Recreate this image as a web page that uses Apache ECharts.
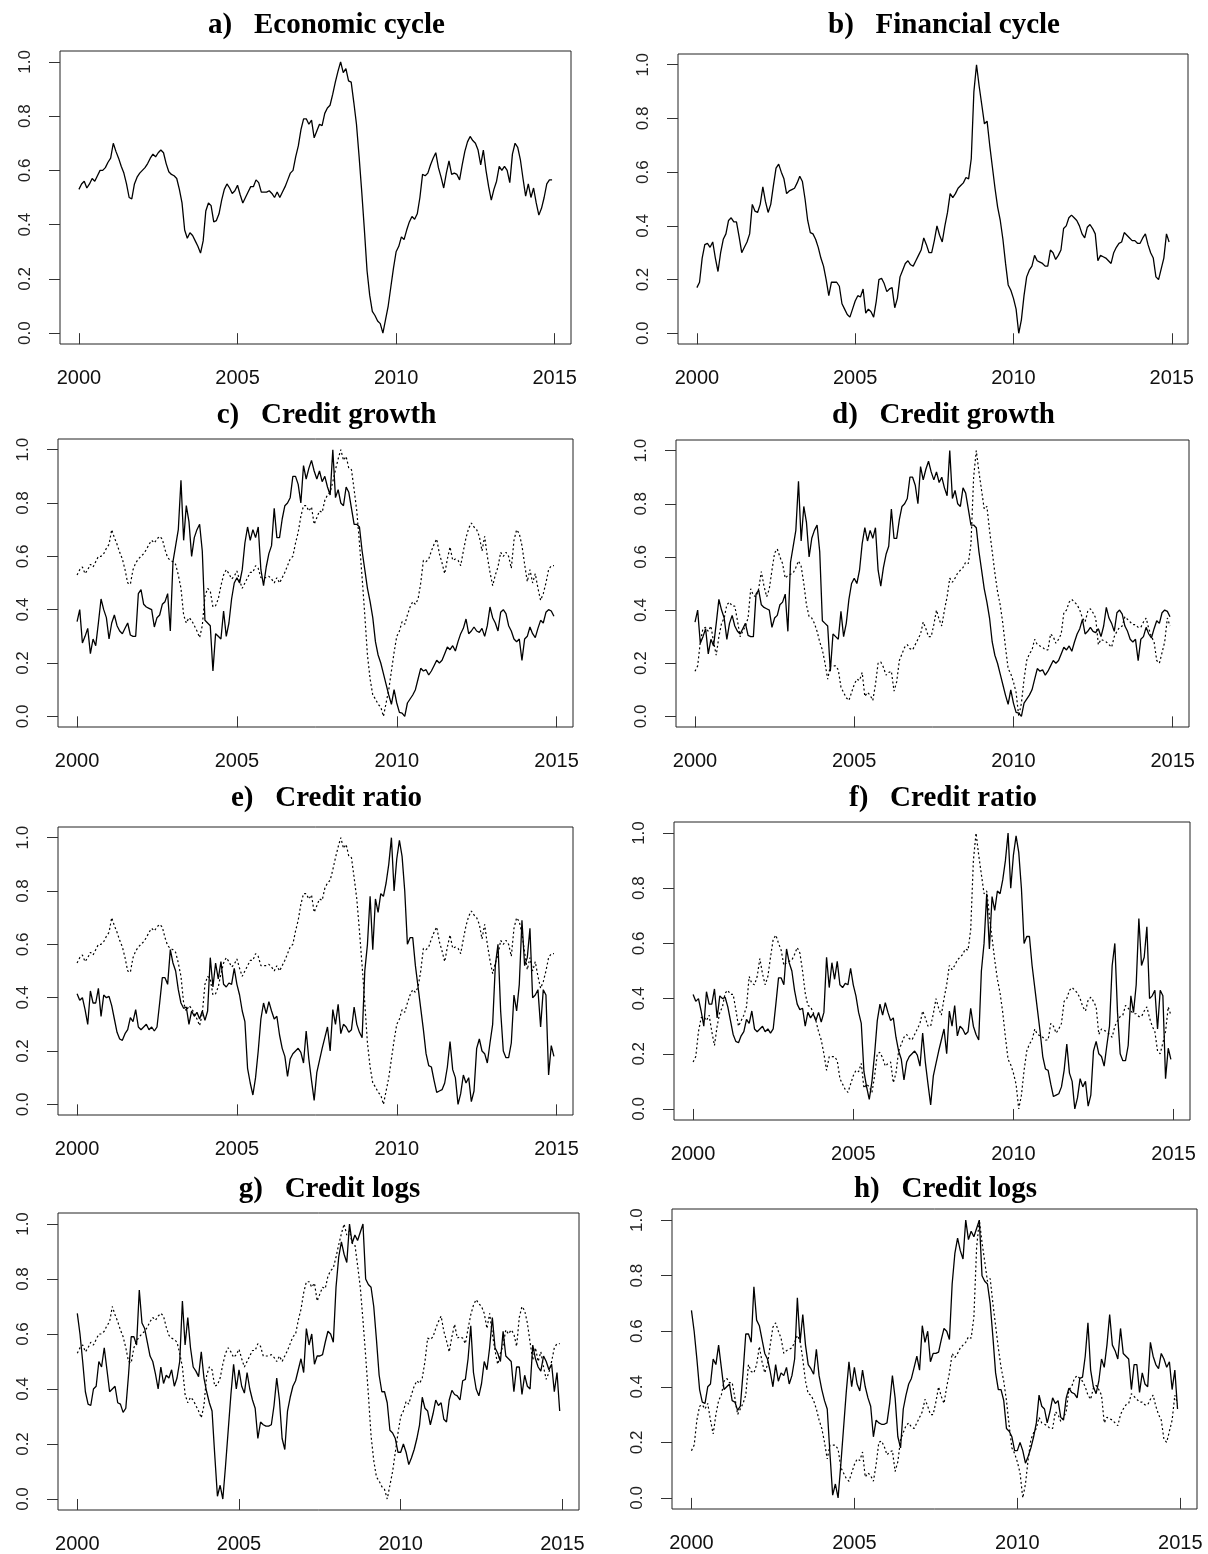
<!DOCTYPE html>
<html>
<head>
<meta charset="utf-8">
<script src="https://cdn.jsdelivr.net/npm/echarts@6/dist/echarts.min.js"></script>
<style>
  html, body { margin: 0; padding: 0; background: #fff; }
  #chart { width: 1208px; height: 1554px; }
</style>
</head>
<body>
<div id="chart"></div>
<script>
// monthly values, Jan 2000 .. Dec 2014 (12 per row)
var economicCycle = [
  0.53,0.55,0.56,0.535,0.55,0.57,0.56,0.58,0.60,0.60,0.61,0.63,
  0.645,0.70,0.67,0.645,0.615,0.59,0.55,0.50,0.495,0.55,0.575,0.59,
  0.60,0.61,0.625,0.645,0.66,0.65,0.665,0.675,0.665,0.625,0.595,0.585,
  0.58,0.57,0.53,0.48,0.38,0.35,0.37,0.36,0.34,0.32,0.295,0.34,
  0.45,0.48,0.47,0.41,0.415,0.44,0.49,0.53,0.55,0.535,0.515,0.525,
  0.545,0.51,0.48,0.50,0.52,0.54,0.54,0.565,0.555,0.52,0.52,0.52,
  0.525,0.515,0.50,0.52,0.50,0.52,0.54,0.565,0.59,0.60,0.65,0.69,
  0.75,0.79,0.79,0.77,0.785,0.72,0.745,0.77,0.765,0.81,0.83,0.84,
  0.88,0.925,0.965,1.0,0.96,0.975,0.93,0.925,0.85,0.77,0.65,0.52,
  0.38,0.23,0.14,0.08,0.065,0.045,0.035,0.0,0.05,0.10,0.17,0.24,
  0.30,0.32,0.355,0.345,0.38,0.41,0.43,0.42,0.44,0.50,0.585,0.58,
  0.59,0.62,0.645,0.665,0.61,0.575,0.535,0.59,0.635,0.585,0.59,0.585,
  0.565,0.62,0.67,0.705,0.725,0.71,0.70,0.675,0.62,0.675,0.60,0.54,
  0.49,0.53,0.56,0.615,0.60,0.615,0.60,0.555,0.66,0.70,0.685,0.64,
  0.57,0.505,0.55,0.50,0.535,0.48,0.435,0.46,0.50,0.55,0.565,0.565
];
var financialCycle = [
  0.17,0.19,0.28,0.33,0.335,0.32,0.34,0.28,0.23,0.30,0.35,0.37,
  0.42,0.43,0.415,0.415,0.36,0.30,0.32,0.34,0.37,0.48,0.455,0.45,
  0.48,0.545,0.49,0.45,0.48,0.55,0.615,0.63,0.60,0.575,0.52,0.53,
  0.535,0.54,0.56,0.585,0.565,0.50,0.42,0.375,0.37,0.35,0.32,0.28,
  0.25,0.20,0.14,0.19,0.19,0.19,0.175,0.11,0.09,0.07,0.06,0.09,
  0.12,0.14,0.135,0.165,0.075,0.09,0.08,0.06,0.12,0.20,0.205,0.185,
  0.155,0.165,0.17,0.095,0.13,0.21,0.235,0.26,0.27,0.255,0.25,0.27,
  0.29,0.31,0.355,0.33,0.30,0.30,0.345,0.40,0.365,0.34,0.40,0.45,
  0.52,0.505,0.52,0.54,0.55,0.56,0.58,0.575,0.65,0.90,1.0,0.92,
  0.85,0.78,0.79,0.70,0.62,0.54,0.47,0.42,0.35,0.26,0.18,0.16,
  0.13,0.09,0.0,0.05,0.14,0.21,0.235,0.25,0.29,0.27,0.265,0.26,
  0.25,0.25,0.31,0.30,0.275,0.29,0.31,0.39,0.40,0.43,0.44,0.43,
  0.42,0.40,0.37,0.355,0.395,0.405,0.39,0.37,0.27,0.29,0.285,0.28,
  0.27,0.26,0.30,0.32,0.335,0.34,0.375,0.365,0.355,0.345,0.345,0.335,
  0.335,0.355,0.37,0.33,0.30,0.28,0.21,0.20,0.24,0.28,0.37,0.34
];
var creditGrowth = [
  0.355,0.40,0.275,0.30,0.33,0.235,0.29,0.265,0.35,0.44,0.40,0.37,
  0.29,0.35,0.38,0.34,0.32,0.31,0.33,0.35,0.305,0.30,0.30,0.46,
  0.475,0.42,0.41,0.405,0.40,0.335,0.37,0.38,0.42,0.43,0.46,0.32,
  0.58,0.64,0.70,0.885,0.66,0.79,0.73,0.60,0.67,0.70,0.72,0.62,
  0.36,0.35,0.34,0.17,0.31,0.30,0.29,0.395,0.30,0.35,0.44,0.50,
  0.52,0.50,0.55,0.65,0.71,0.66,0.70,0.67,0.71,0.55,0.49,0.56,
  0.61,0.64,0.78,0.67,0.67,0.74,0.79,0.80,0.82,0.90,0.90,0.87,
  0.80,0.94,0.89,0.93,0.96,0.92,0.89,0.92,0.88,0.90,0.86,0.83,
  1.0,0.82,0.85,0.80,0.79,0.86,0.84,0.78,0.72,0.72,0.71,0.62,
  0.55,0.48,0.43,0.37,0.28,0.23,0.20,0.16,0.12,0.08,0.045,0.10,
  0.05,0.015,0.012,0.0,0.05,0.065,0.08,0.10,0.14,0.18,0.17,0.175,
  0.155,0.17,0.19,0.21,0.20,0.21,0.235,0.26,0.25,0.265,0.245,0.28,
  0.31,0.33,0.365,0.31,0.32,0.335,0.32,0.315,0.33,0.30,0.34,0.41,
  0.37,0.35,0.32,0.39,0.40,0.385,0.34,0.32,0.29,0.28,0.29,0.21,
  0.29,0.30,0.335,0.31,0.295,0.33,0.36,0.35,0.39,0.40,0.395,0.375
];
var creditRatio = [
  0.415,0.39,0.40,0.355,0.30,0.425,0.38,0.38,0.435,0.33,0.41,0.40,
  0.405,0.37,0.32,0.27,0.245,0.24,0.265,0.28,0.325,0.31,0.355,0.29,
  0.28,0.29,0.30,0.28,0.29,0.275,0.29,0.38,0.475,0.475,0.45,0.58,
  0.53,0.50,0.43,0.38,0.36,0.365,0.30,0.35,0.33,0.345,0.32,0.35,
  0.315,0.35,0.55,0.44,0.53,0.47,0.535,0.45,0.44,0.455,0.45,0.51,
  0.45,0.41,0.35,0.31,0.135,0.08,0.035,0.10,0.20,0.32,0.38,0.34,
  0.385,0.35,0.32,0.33,0.26,0.21,0.18,0.105,0.17,0.19,0.20,0.21,
  0.195,0.155,0.275,0.17,0.09,0.015,0.12,0.165,0.21,0.25,0.29,0.20,
  0.355,0.30,0.375,0.265,0.30,0.29,0.27,0.28,0.365,0.30,0.27,0.25,
  0.50,0.60,0.78,0.58,0.77,0.72,0.79,0.78,0.83,0.90,1.0,0.80,
  0.92,0.99,0.93,0.80,0.60,0.625,0.625,0.52,0.44,0.36,0.28,0.19,
  0.145,0.14,0.09,0.045,0.05,0.055,0.08,0.14,0.235,0.13,0.10,0.0,
  0.04,0.11,0.08,0.10,0.01,0.05,0.21,0.245,0.20,0.19,0.155,0.23,
  0.30,0.52,0.60,0.35,0.20,0.175,0.175,0.23,0.41,0.35,0.45,0.69,
  0.52,0.55,0.66,0.40,0.41,0.43,0.29,0.43,0.41,0.11,0.22,0.18
];
var creditLogs = [
  0.675,0.60,0.50,0.39,0.345,0.34,0.40,0.41,0.50,0.48,0.55,0.47,
  0.39,0.40,0.41,0.35,0.345,0.315,0.33,0.45,0.59,0.59,0.56,0.76,
  0.64,0.62,0.57,0.52,0.50,0.455,0.40,0.48,0.42,0.45,0.44,0.47,
  0.41,0.44,0.50,0.72,0.56,0.66,0.55,0.48,0.465,0.445,0.535,0.44,
  0.39,0.35,0.32,0.16,0.01,0.05,0.0,0.12,0.25,0.38,0.49,0.40,
  0.47,0.41,0.385,0.46,0.40,0.36,0.33,0.22,0.28,0.27,0.265,0.265,
  0.27,0.34,0.44,0.36,0.22,0.18,0.32,0.37,0.41,0.43,0.47,0.51,
  0.46,0.62,0.56,0.60,0.49,0.52,0.52,0.525,0.57,0.61,0.60,0.57,
  0.77,0.88,0.935,0.89,0.86,1.0,0.93,0.96,0.94,0.97,1.0,0.80,
  0.78,0.77,0.70,0.58,0.45,0.39,0.39,0.35,0.25,0.24,0.22,0.17,
  0.17,0.20,0.17,0.125,0.15,0.18,0.22,0.27,0.37,0.33,0.32,0.27,
  0.31,0.36,0.34,0.35,0.29,0.28,0.36,0.395,0.38,0.375,0.36,0.43,
  0.435,0.51,0.63,0.46,0.40,0.375,0.42,0.50,0.47,0.55,0.66,0.55,
  0.53,0.50,0.61,0.52,0.51,0.50,0.39,0.48,0.48,0.38,0.45,0.41,
  0.40,0.56,0.51,0.48,0.465,0.52,0.50,0.47,0.49,0.39,0.46,0.32
];
var yearTicks = [2000, 2005, 2010, 2015];
var valueTicks = [0, 0.2, 0.4, 0.6, 0.8, 1.0];

// time in decimal years for each monthly observation
var months = [];
for (var m = 0; m < economicCycle.length; m++) months.push(2000 + m / 12);
function toPairs(vals) {
  return vals.map(function (v, i) { return [months[i], v]; });
}

// plot boxes [left, top, right, bottom] in px
var panels = [
  {title: 'a)   Economic cycle',  box: [60, 51, 571, 344],     solid: economicCycle,  dotted: null},
  {title: 'b)   Financial cycle', box: [678, 54, 1188, 344],   solid: financialCycle, dotted: null},
  {title: 'c)   Credit growth',   box: [58, 439, 573, 727],    solid: creditGrowth,   dotted: economicCycle},
  {title: 'd)   Credit growth',   box: [676, 440, 1189, 727],  solid: creditGrowth,   dotted: financialCycle},
  {title: 'e)   Credit ratio',    box: [58, 827, 573, 1115],   solid: creditRatio,    dotted: economicCycle},
  {title: 'f)   Credit ratio',    box: [674, 822, 1190, 1120], solid: creditRatio,    dotted: financialCycle},
  {title: 'g)   Credit logs',     box: [58, 1213, 579, 1510],  solid: creditLogs,     dotted: economicCycle},
  {title: 'h)   Credit logs',     box: [672, 1209, 1197, 1509],solid: creditLogs,     dotted: financialCycle}
];
var titleY = [22, 22, 412, 412, 795, 795, 1186, 1186];

var grids = [], xAxes = [], yAxes = [], series = [], titles = [];
panels.forEach(function (p, i) {
  var b = p.box;
  grids.push({
    left: b[0], top: b[1], width: b[2] - b[0], height: b[3] - b[1],
    show: true, borderColor: '#222', borderWidth: 1, backgroundColor: 'transparent'
  });
  xAxes.push({
    type: 'value', gridIndex: i, min: 1999.4033, max: 2015.5133,
    axisLine: {show: false},
    splitLine: {show: false},
    axisTick: {show: true, customValues: yearTicks, length: 11, lineStyle: {color: '#333', width: 1}},
    axisLabel: {
      customValues: yearTicks, fontSize: 20, color: '#111', margin: 24,
      fontFamily: 'Liberation Sans',
      formatter: function (v) { return String(v); }
    }
  });
  yAxes.push({
    type: 'value', gridIndex: i, min: -0.04, max: 1.04,
    axisLine: {show: false},
    splitLine: {show: false},
    axisTick: {show: true, customValues: valueTicks, length: 11, lineStyle: {color: '#333', width: 1}},
    axisLabel: {
      customValues: valueTicks, fontSize: 17, color: '#222', margin: 26, rotate: 90,
      fontFamily: 'Liberation Sans',
      formatter: function (v) { return v.toFixed(1); }
    }
  });
  if (p.dotted) {
    series.push({
      type: 'line', xAxisIndex: i, yAxisIndex: i, data: toPairs(p.dotted),
      symbol: 'none', silent: true,
      lineStyle: {color: '#000', width: 1.2, type: [2, 2.5]}
    });
  }
  series.push({
    type: 'line', xAxisIndex: i, yAxisIndex: i, data: toPairs(p.solid),
    symbol: 'none', silent: true,
    lineStyle: {color: '#000', width: 1.3}
  });
  titles.push({
    text: p.title, left: (b[0] + b[2]) / 2 + 6, top: titleY[i] - 16, textAlign: 'center',
    textStyle: {fontFamily: 'Liberation Serif', fontWeight: 'bold', fontSize: 29, color: '#000'}
  });
});

var chart = echarts.init(document.getElementById('chart'), null, {renderer: 'canvas'});
chart.setOption({
  animation: false,
  backgroundColor: '#fff',
  title: titles,
  grid: grids,
  xAxis: xAxes,
  yAxis: yAxes,
  series: series
});
</script>
</body>
</html>
